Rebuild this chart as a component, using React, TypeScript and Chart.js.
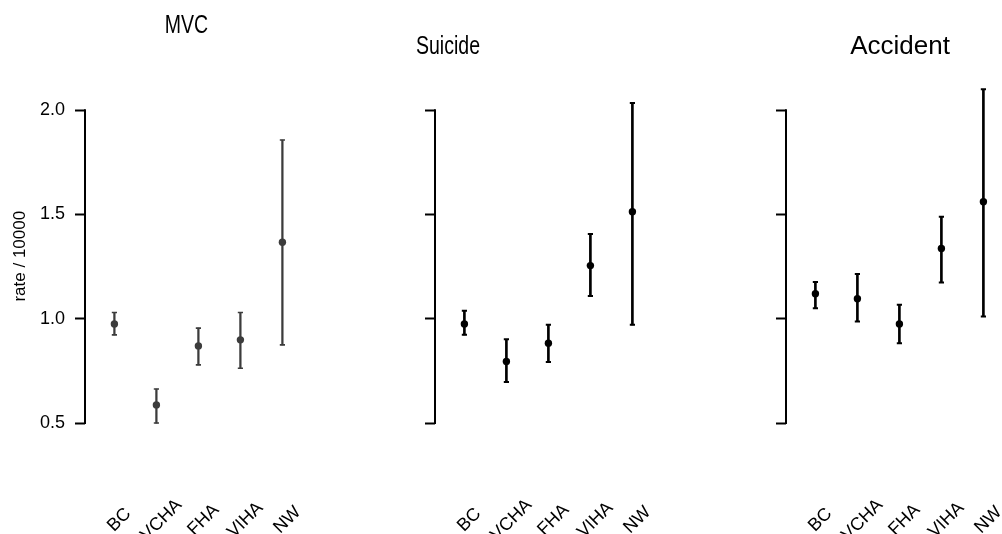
import React, { useEffect, useRef } from 'react';
import { Chart, registerables } from 'chart.js';

Chart.register(...registerables);

const FONT = '"Liberation Sans", Arial, Helvetica, sans-serif';

const categories = ['BC', 'VCHA', 'FHA', 'VIHA', 'NW'];
const yTicks = [0.5, 1.0, 1.5, 2.0];

const mvcRate = [0.975, 0.587, 0.87, 0.899, 1.367];
const mvcLower = [0.923, 0.5, 0.779, 0.763, 0.875];
const mvcUpper = [1.03, 0.663, 0.955, 1.03, 1.857];

const suicideRate = [0.975, 0.795, 0.883, 1.255, 1.513];
const suicideLower = [0.923, 0.697, 0.793, 1.109, 0.971];
const suicideUpper = [1.038, 0.902, 0.971, 1.407, 2.034];

const accidentRate = [1.12, 1.096, 0.975, 1.337, 1.561];
const accidentLower = [1.051, 0.987, 0.883, 1.174, 1.011];
const accidentUpper = [1.176, 1.215, 1.067, 1.489, 2.1];

type PanelDef = {
  title: string;
  rate: number[];
  lower: number[];
  upper: number[];
  color: string;
  lineW: number;
  showYLabels: boolean;
  left: number;
  titleX: number;
  titleY: number;
  titleScaleX: number;
};

const panels: PanelDef[] = [
  { title: 'MVC', rate: mvcRate, lower: mvcLower, upper: mvcUpper, color: '#3c3c3c', lineW: 1.6, showYLabels: true, left: 0, titleX: 186.5, titleY: 33, titleScaleX: 0.75 },
  { title: 'Suicide', rate: suicideRate, lower: suicideLower, upper: suicideUpper, color: '#000000', lineW: 2, showYLabels: false, left: 350, titleX: 98, titleY: 54, titleScaleX: 0.75 },
  { title: 'Accident', rate: accidentRate, lower: accidentLower, upper: accidentUpper, color: '#000000', lineW: 2, showYLabels: false, left: 701, titleX: 199, titleY: 54, titleScaleX: 1 },
];

const CW = 351;
const CH = 534;

function Panel({ p }: { p: PanelDef }) {
  const ref = useRef<HTMLCanvasElement>(null);
  useEffect(() => {
    if (!ref.current) return;
    const xs = categories.map((_, i) => i + 1);
    const axisPlugin = {
      id: 'extras',
      afterDraw(chart: any) {
        const ctx = chart.ctx as CanvasRenderingContext2D;
        const ys = chart.scales.y;
        const xsScale = chart.scales.x;
        const left = chart.chartArea.left;
        ctx.save();
        // axis line from first to last tick
        ctx.strokeStyle = '#000';
        ctx.lineWidth = 2;
        ctx.beginPath();
        ctx.moveTo(left, ys.getPixelForValue(yTicks[0]) + 1);
        ctx.lineTo(left, ys.getPixelForValue(yTicks[yTicks.length - 1]) - 1);
        ctx.stroke();
        // rotated category labels
        ctx.fillStyle = '#000';
        ctx.font = `18px ${FONT}`;
        ctx.textAlign = 'center';
        ctx.textBaseline = 'middle';
        categories.forEach((c, i) => {
          const px = xsScale.getPixelForValue(xs[i]) + 5;
          ctx.save();
          ctx.translate(px, 520);
          ctx.rotate(-Math.PI / 4);
          ctx.fillText(c, 0, 0);
          ctx.restore();
        });
        // panel title
        ctx.font = `26px ${FONT}`;
        ctx.textBaseline = 'alphabetic';
        ctx.translate(p.titleX, p.titleY);
        ctx.scale(p.titleScaleX, 1);
        ctx.fillText(p.title, 0, 0);
        ctx.restore();
      },
    };
    const chart = new Chart(ref.current, {
      type: 'bar',
      data: {
        datasets: [
          {
            type: 'line',
            data: xs.map((x, i) => ({ x, y: p.rate[i] })),
            showLine: false,
            pointStyle: 'circle',
            pointRadius: 3.7,
            pointBackgroundColor: p.color,
            pointBorderColor: p.color,
            pointBorderWidth: 0,
            borderColor: p.color,
            backgroundColor: p.color,
          } as any,
          {
            type: 'line',
            data: xs.map((x, i) => ({ x, y: p.lower[i] })),
            showLine: false,
            pointStyle: 'line',
            pointRadius: 2.6,
            pointBorderWidth: p.lineW,
            pointBorderColor: p.color,
            borderColor: p.color,
          } as any,
          {
            type: 'line',
            data: xs.map((x, i) => ({ x, y: p.upper[i] })),
            showLine: false,
            pointStyle: 'line',
            pointRadius: 2.6,
            pointBorderWidth: p.lineW,
            pointBorderColor: p.color,
            borderColor: p.color,
          } as any,
          {
            type: 'bar',
            data: xs.map((x, i) => ({ x, y: [p.lower[i], p.upper[i]] })),
            backgroundColor: p.color,
            borderWidth: 0,
            barThickness: p.lineW,
            maxBarThickness: p.lineW,
          } as any,
        ],
      },
      options: {
        responsive: false,
        animation: false,
        events: [],
        layout: { padding: { top: 76, bottom: 97.6, left: 0, right: CW - 85 - 226.8 } },
        plugins: { legend: { display: false }, tooltip: { enabled: false }, title: { display: false } },
        scales: {
          x: {
            type: 'linear',
            display: false,
            offset: false,
            min: 0.3,
            max: 5.7,
          },
          y: {
            type: 'linear',
            min: 0.436,
            max: 2.164,
            afterBuildTicks: (s: any) => {
              s.ticks = yTicks.map((v) => ({ value: v }));
            },
            afterFit: (s: any) => {
              s.width = 85;
            },
            border: { display: false },
            grid: {
              display: true,
              drawOnChartArea: false,
              drawTicks: true,
              tickLength: 10,
              tickColor: '#000',
              tickWidth: 2,
              color: '#000',
            },
            ticks: {
              padding: 10,
              color: '#000',
              font: { family: FONT, size: 18 },
              callback: (v: any) => (p.showYLabels ? Number(v).toFixed(1) : ''),
            },
            title: {
              display: p.showYLabels,
              text: 'rate / 10000',
              color: '#000',
              font: { family: FONT, size: 17 },
              padding: { top: 10, bottom: 0 },
            },
          },
        },
      } as any,
      plugins: [axisPlugin],
    });
    return () => chart.destroy();
  }, []);
  return (
    <div style={{ position: 'absolute', left: p.left, top: 0, width: CW, height: CH }}>
      <canvas ref={ref} width={CW} height={CH} style={{ display: 'block' }} />
    </div>
  );
}

export default function App() {
  return (
    <div
      style={{
        position: 'absolute',
        left: 0,
        top: 0,
        width: 1002,
        height: 534,
        overflow: 'hidden',
        background: '#ffffff',
      }}
    >
      {panels.map((p) => (
        <Panel key={p.title} p={p} />
      ))}
    </div>
  );
}
